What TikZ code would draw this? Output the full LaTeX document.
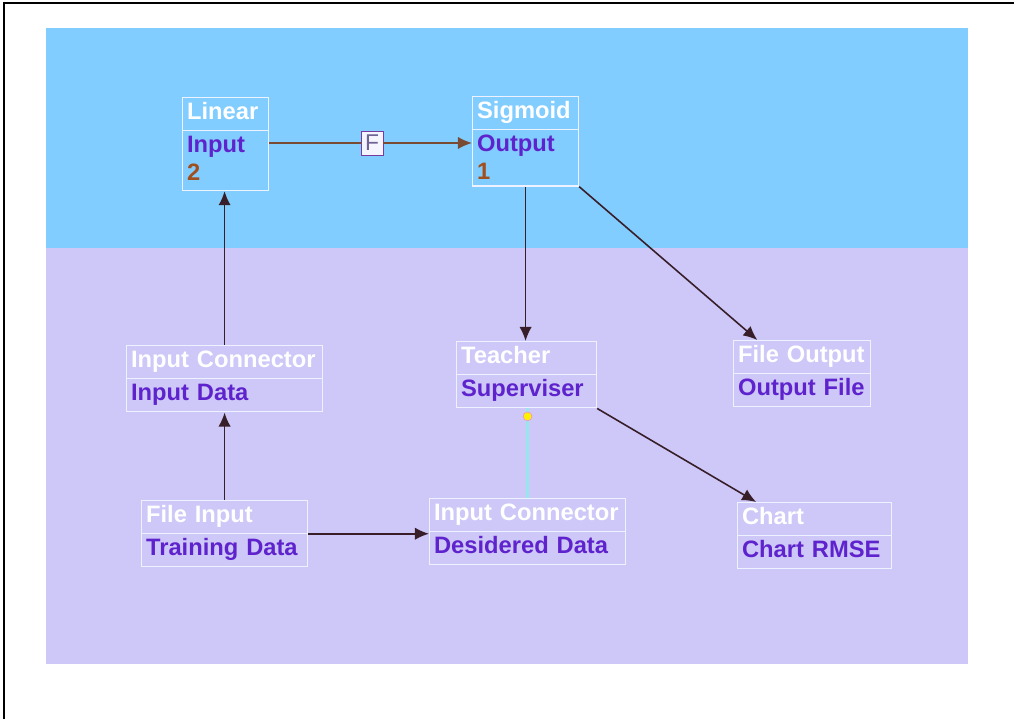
\documentclass[tikz,border=0pt]{standalone}
\usepackage{fontspec}
\setsansfont{Liberation Sans}
\usetikzlibrary{shapes}
\usetikzlibrary{arrows.meta}
\definecolor{skyband}{RGB}{130,205,255}
\definecolor{lilacband}{RGB}{205,200,248}
\definecolor{boxline}{RGB}{238,242,255}
\definecolor{bodytxt}{RGB}{95,35,205}
\definecolor{numtxt}{RGB}{160,80,30}
\definecolor{linkcol}{RGB}{55,30,40}
\definecolor{flowcol}{RGB}{120,75,50}
\definecolor{tiecol}{RGB}{150,230,235}
\tikzset{
	unit/.style = {rectangle split, rectangle split parts=2, draw=boxline,
		line width=0.8pt, inner xsep=2.5pt, inner ysep=1pt, text width=#1,
		align=left, anchor=north west, text=white,
		font=\sffamily\bfseries\fontsize{13.5}{16}\selectfont},% module box
	gate/.style = {rectangle, draw={rgb,255:red,120;green,60;blue,160},
		fill={rgb,255:red,245;green,245;blue,255}, minimum width=0.44cm,
		minimum height=0.48cm, inner sep=0pt, text={rgb,255:red,110;green,100;blue,150},
		font=\sffamily\fontsize{13}{15}\selectfont},% synapse
	link/.style = {-{Latex[length=8pt,width=7pt]}, draw=linkcol, line width=0.9pt},
	tie/.style = {draw=tiecol, line width=2pt},
	knot/.style = {circle, fill=yellow, draw={rgb,255:red,240;green,150;blue,200},
		inner sep=0pt, minimum size=5pt}
}
\newcommand{\bt}[1]{\textcolor{bodytxt}{#1}}

\begin{document}
\begin{tikzpicture}[x=0.02cm, y=-0.02cm]
	\useasboundingbox (0,0) rectangle (1014,719);
	% backdrop
	\fill[skyband] (46,28) rectangle (968,248);
	\fill[lilacband] (46,248) rectangle (968,664);
	\draw[line width=1.7pt] (3,3) -- (1014,3);
	\draw[line width=1.7pt] (4,2) -- (4,719);

	% modules
	\node[unit=1.54cm] (lin) at (182,97) {\strut Linear
		\nodepart{two}\strut\bt{Input}\\\textcolor{numtxt}{2}\rule[-4pt]{0pt}{1pt}};
	\node[unit=1.94cm] (sig) at (472,96) {\strut Sigmoid
		\nodepart{two}\strut\bt{Output}\\\textcolor{numtxt}{1}\rule[-2pt]{0pt}{1pt}};
	\node[unit=3.74cm] (ic1) at (126,345) {\strut Input Connector
		\nodepart{two}\strut\bt{Input Data}};
	\node[unit=2.62cm] (teach) at (456,341) {\strut Teacher
		\nodepart{two}\strut\bt{Superviser}};
	\node[unit=2.56cm] (fout) at (733,340) {\strut File Output
		\nodepart{two}\strut\bt{Output File}};
	\node[unit=3.14cm] (fin) at (141,500) {\strut File Input
		\nodepart{two}\strut\bt{Training Data}};
	\node[unit=3.74cm] (ic2) at (429,498) {\strut Input Connector
		\nodepart{two}\strut\bt{Desidered Data}};
	\node[unit=2.90cm] (chart) at (737,502) {\strut Chart
		\nodepart{two}\strut\bt{Chart RMSE}};
	\node[gate] (f) at (372,143) {F};

	% connections
	\draw[link, draw=flowcol, -] (lin.east |- f) -- (f);
	\draw[link, draw=flowcol] (f) -- (sig.west |- f);
	\draw[link] (ic1.north) -- (ic1.north |- lin.south);
	\draw[link] (fin.north) -- (fin.north |- ic1.south);
	\draw[link] (fin.east) -- (ic2.west |- fin.east);
	\draw[link] (sig.south) -- (sig.south |- teach.north);
	\draw[link] (sig.south east) -- (fout.143);
	\draw[link] (teach.south east) -- (chart.150);
	\draw[tie] (ic2.north) -- (ic2.north |- teach.south);
	\node[knot] (joint) at ([yshift=-4.5pt]ic2.north |- teach.south) {};
\end{tikzpicture}
\end{document}
